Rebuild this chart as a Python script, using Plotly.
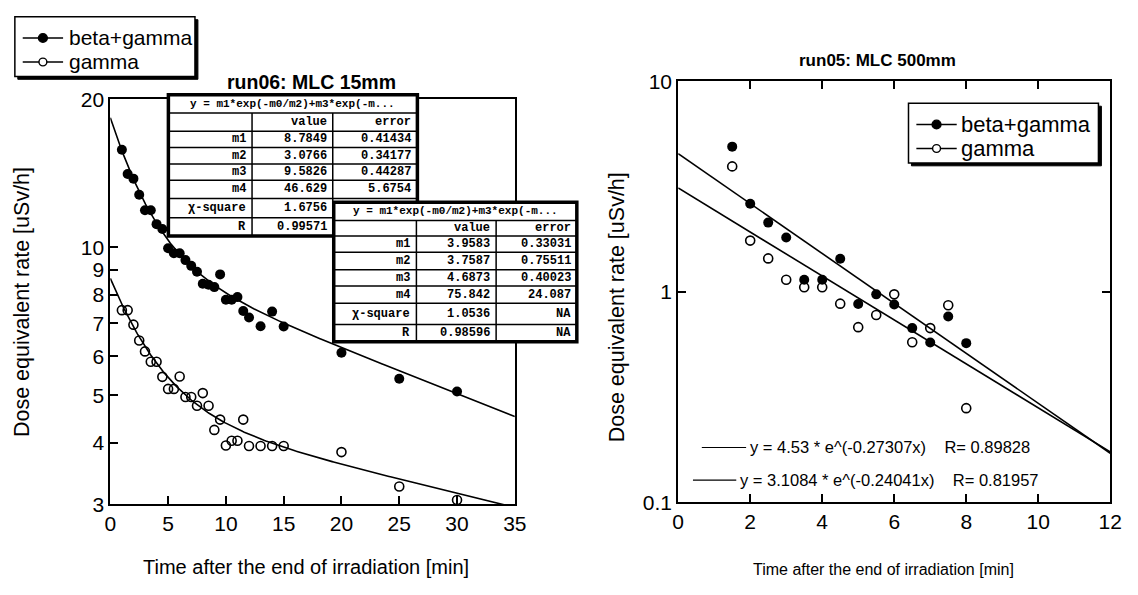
import numpy as np
import plotly.graph_objects as go

W, H = 1138, 595
FONT = "Liberation Sans"
MONO = "Liberation Mono"

# ---------------- data: run06 (left) ----------------
t_left = [1, 1.5, 2, 2.5, 3, 3.5, 4, 4.5, 5, 5.5, 6, 6.5, 7, 7.5, 8, 8.5, 9, 9.5,
          10, 10.5, 11, 11.5, 12, 13, 14, 15, 20, 25, 30]
bg_left = [15.8, 14.1, 13.8, 12.8, 11.9, 11.9, 11.15, 10.9, 9.96, 9.73, 9.73, 9.42,
           9.17, 8.92, 8.43, 8.39, 8.30, 8.81, 7.82, 7.82, 7.92, 7.42, 7.20, 6.91,
           7.40, 6.90, 6.10, 5.40, 5.09]
g_left = [7.45, 7.45, 6.96, 6.46, 6.14, 5.85, 5.85, 5.45, 5.15, 5.15, 5.46, 4.96,
          4.96, 4.76, 5.05, 4.76, 4.25, 4.46, 3.95, 4.04, 4.04, 4.46, 3.94, 3.94,
          3.94, 3.94, 3.83, 3.26, 3.06]

# fit parameters (y = m1*exp(-x/m2) + m3*exp(-x/m4))
fit_bg_left = [8.7849, 3.0766, 9.5826, 46.629]
fit_g_left = [3.9583, 3.7587, 4.6873, 75.842]

table1_rows = ["m1", "m2", "m3", "m4", "χ-square", "R"]
table1_value = ["8.7849", "3.0766", "9.5826", "46.629", "1.6756", "0.99571"]
table1_error = ["0.41434", "0.34177", "0.44287", "5.6754", "", ""]
table2_rows = ["m1", "m2", "m3", "m4", "χ-square", "R"]
table2_value = ["3.9583", "3.7587", "4.6873", "75.842", "1.0536", "0.98596"]
table2_error = ["0.33031", "0.75511", "0.40023", "24.087", "NA", "NA"]
table_title = "y = m1*exp(-m0/m2)+m3*exp(-m..."

# ---------------- data: run05 (right) ----------------
t_right = [1.5, 2, 2.5, 3, 3.5, 4, 4.5, 5, 5.5, 6, 6.5, 7, 7.5, 8]
bg_right = [4.89, 2.62, 2.13, 1.81, 1.14, 1.14, 1.435, 0.875, 0.972, 0.869, 0.672,
            0.574, 0.763, 0.570]
g_right = [3.94, 1.75, 1.44, 1.14, 1.05, 1.05, 0.878, 0.679, 0.776, 0.972, 0.576,
           0.672, 0.863, 0.280]
fit_bg_right = [4.53, 0.27307]
fit_g_right = [3.1084, 0.24041]
eq_bg_right = "y = 4.53 * e^(-0.27307x)&nbsp;&nbsp;&nbsp; R= 0.89828"
eq_g_right = "y = 3.1084 * e^(-0.24041x)&nbsp;&nbsp;&nbsp; R= 0.81957"

series_names = ["beta+gamma", "gamma"]
x_ticks_left = [0, 5, 10, 15, 20, 25, 30, 35]
y_ticks_left = [3, 4, 5, 6, 7, 8, 9, 10, 20]
x_ticks_right = [0, 2, 4, 6, 8, 10, 12]
y_ticks_right = [0.1, 1, 10]


def px(x):
    return x / W


def py(y):
    return 1 - y / H


fig = go.Figure()

xl = np.linspace(0, 35, 300)


def biexp(p, x):
    return p[0] * np.exp(-x / p[1]) + p[2] * np.exp(-x / p[3])


LW = 1.6
fig.add_trace(go.Scatter(x=xl, y=biexp(fit_bg_left, xl), mode="lines",
                         line=dict(color="black", width=LW), xaxis="x", yaxis="y"))
fig.add_trace(go.Scatter(x=xl, y=biexp(fit_g_left, xl), mode="lines",
                         line=dict(color="black", width=LW), xaxis="x", yaxis="y"))
fig.add_trace(go.Scatter(x=t_left, y=bg_left, mode="markers", name=series_names[0],
                         marker=dict(symbol="circle", size=10, color="black"),
                         xaxis="x", yaxis="y"))
fig.add_trace(go.Scatter(x=t_left, y=g_left, mode="markers", name=series_names[1],
                         marker=dict(symbol="circle-open", size=9, color="black",
                                     line=dict(width=1.6)),
                         xaxis="x", yaxis="y"))

xr = np.linspace(0, 12, 50)
fig.add_trace(go.Scatter(x=xr, y=fit_bg_right[0] * np.exp(-fit_bg_right[1] * xr),
                         mode="lines", line=dict(color="black", width=LW),
                         xaxis="x2", yaxis="y2"))
fig.add_trace(go.Scatter(x=xr, y=fit_g_right[0] * np.exp(-fit_g_right[1] * xr),
                         mode="lines", line=dict(color="black", width=LW),
                         xaxis="x2", yaxis="y2"))
fig.add_trace(go.Scatter(x=t_right, y=bg_right, mode="markers", name=series_names[0],
                         marker=dict(symbol="circle", size=10, color="black"),
                         xaxis="x2", yaxis="y2"))
fig.add_trace(go.Scatter(x=t_right, y=g_right, mode="markers", name=series_names[1],
                         marker=dict(symbol="circle-open", size=9, color="black",
                                     line=dict(width=1.6)),
                         xaxis="x2", yaxis="y2"))

axis_common = dict(showline=True, linecolor="black", linewidth=2, ticks="inside",
                   ticklen=8, tickwidth=1.5, tickcolor="black", showgrid=False,
                   zeroline=False, tickfont=dict(family=FONT, size=21, color="black"))

fig.update_layout(
    width=W, height=H, autosize=False, showlegend=False,
    margin=dict(l=0, r=0, t=0, b=0),
    paper_bgcolor="white", plot_bgcolor="white",
    font=dict(family=FONT, color="black"),
    xaxis=dict(domain=[px(106), px(517)], range=[0, 35], tickvals=x_ticks_left,
               mirror=True, anchor="y", **axis_common),
    yaxis=dict(domain=[py(512), py(91)], type="log",
               range=[np.log10(3), np.log10(20)], tickvals=y_ticks_left,
               ticktext=[str(v) for v in y_ticks_left], mirror=True, anchor="x",
               **axis_common),
    xaxis2=dict(domain=[px(683), px(1122)], range=[0, 12], tickvals=x_ticks_right,
                mirror="allticks", anchor="y2", **axis_common),
    yaxis2=dict(domain=[py(510), py(72)], type="log", range=[-1, 1],
                tickvals=y_ticks_right, ticktext=["0.1", "1", "10"],
                mirror="allticks", anchor="x2", **axis_common),
)

shapes = []
annots = []


def text(x, y, s, anchor="center", size=17, family=FONT, angle=0):
    annots.append(dict(xref="paper", yref="paper", x=px(x), y=py(y), text=s,
                       showarrow=False, xanchor=anchor, yanchor="middle",
                       textangle=angle,
                       font=dict(family=family, size=size, color="black")))


def line(x0, y0, x1, y1, w=1.5):
    shapes.append(dict(type="line", xref="paper", yref="paper", x0=px(x0), y0=py(y0),
                       x1=px(x1), y1=py(y1), layer="above",
                       line=dict(color="black", width=w)))


def rect(x0, y0, x1, y1, w=3, fill="white"):
    shapes.append(dict(type="rect", xref="paper", yref="paper", x0=px(x0), y0=py(y0),
                       x1=px(x1), y1=py(y1), layer="above", fillcolor=fill,
                       line=dict(color="black", width=w)))


def dot(cx, cy, r, filled):
    shapes.append(dict(type="circle", xref="paper", yref="paper",
                       x0=px(cx - r), x1=px(cx + r), y0=py(cy + r), y1=py(cy - r),
                       layer="above", fillcolor="black" if filled else "white",
                       line=dict(color="black", width=1.4)))


def table(cols, rows, labels, values, errors):
    rect(cols[0], rows[0], cols[-1], rows[-1], w=3.5)
    for r in rows[1:-1]:
        line(cols[0], r, cols[-1], r, 1.5)
    for c in cols[1:-1]:
        line(c, rows[1], c, rows[-1], 1.5)
    text((cols[0] + cols[-1]) / 2, (rows[0] + rows[1]) / 2, "<b>" + table_title + "</b>",
         "center", 11, MONO)
    text(cols[2] - 4, (rows[1] + rows[2]) / 2, "<b>value</b>", "right", 12, MONO)
    text(cols[3] - 4, (rows[1] + rows[2]) / 2, "<b>error</b>", "right", 12, MONO)
    for i, lab in enumerate(labels):
        yc = (rows[i + 2] + rows[i + 3]) / 2
        text(cols[1] - 4, yc, "<b>" + lab + "</b>", "right", 12, MONO)
        text(cols[2] - 4, yc, "<b>" + values[i] + "</b>", "right", 12, MONO)
        if errors[i]:
            text(cols[3] - 4, yc, "<b>" + errors[i] + "</b>", "right", 12, MONO)


def legend_box(x0, y0, x1, y1, rows_y, lx0, lx1, tx, size):
    rect(x0 + 3, y0 + 3, x1 + 3, y1 + 3, w=1, fill="black")
    rect(x0, y0, x1, y1, w=1.5)
    for i, (yy, nm) in enumerate(zip(rows_y, series_names)):
        line(lx0, yy, lx1, yy, 1.5)
        dot((lx0 + lx1) / 2, yy, 4.5 if i == 0 else 4, i == 0)
        text(tx, yy, nm, "left", size)


table([165, 250, 332, 418], [86, 105, 124, 141, 158, 175, 194, 214, 233],
      table1_rows, table1_value, table1_error)
table([333, 417, 498, 580], [198, 217, 233, 250, 268, 285, 303, 325, 343],
      table2_rows, table2_value, table2_error)

legend_box(9, 5, 192, 67, [27, 52], 17, 58, 62, 21)
legend_box(917, 95, 1110, 157, [117, 142], 925, 966, 968, 22)

# titles
text(310, 73, "<b>run06: MLC 15mm</b>", "center", 19.5)
text(885, 50, "<b>run05: MLC 500mm</b>", "center", 17)
text(17, 302, "Dose equivalent rate [uSv/h]", "center", 21.5, angle=-90)
text(621, 307, "Dose equivalent rate [uSv/h]", "center", 21.5, angle=-90)
text(305, 577, "Time after the end of irradiation [min]", "center", 20)
text(892, 580, "Time after the end of irradiation [min]", "center", 16)

# equation labels right plot
line(707, 453, 752, 453, 1.2)
text(754, 453, eq_bg_right, "left", 16.5)
line(698, 487, 742, 487, 1.2)
text(744, 487, eq_g_right, "left", 16.5)

fig.update_layout(shapes=shapes, annotations=annots)
fig.write_html("out.html")
